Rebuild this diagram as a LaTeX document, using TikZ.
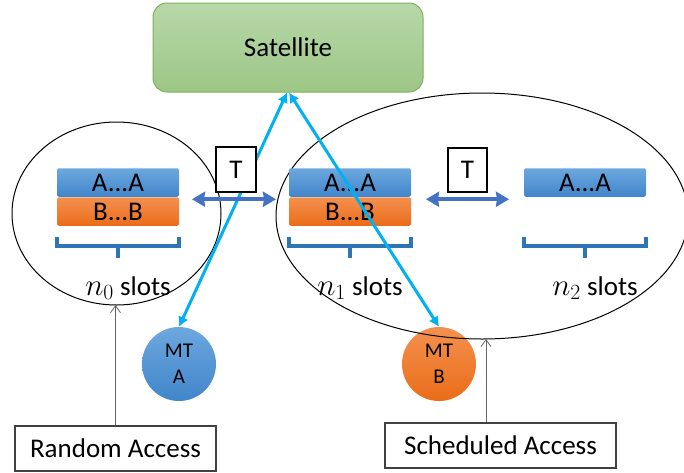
\documentclass[tikz,border=0pt]{standalone}
\usepackage{fix-cm}
\usepackage{fontspec}
\setmainfont{Carlito}
\usetikzlibrary{arrows.meta,shapes.geometric,calc}
\definecolor{satTop}{HTML}{B7D8A9}
\definecolor{satBot}{HTML}{9DC685}
\definecolor{satLine}{HTML}{7DB05D}
\definecolor{blueTop}{HTML}{6DA7DE}
\definecolor{blueBot}{HTML}{4186CA}
\definecolor{orTop}{HTML}{F4914F}
\definecolor{orBot}{HTML}{EA6C19}
\definecolor{braceBlue}{HTML}{2E75B6}
\definecolor{tBlue}{HTML}{4472C4}
\definecolor{cyanL}{HTML}{00B0F0}
\definecolor{grayL}{HTML}{404040}
\newcommand{\mathn}[1]{{\fontsize{31pt}{32pt}\selectfont$n_{#1}$}}
\tikzset{
  big/.style={font=\fontsize{27pt}{32pt}\selectfont},
  bluebar/.style={big, rectangle, rounded corners=2pt, inner sep=0pt, outer sep=0pt,
    minimum width=122pt, minimum height=28.5pt, top color=blueTop, bottom color=blueBot},
  orbar/.style={big, rectangle, rounded corners=2pt, inner sep=0pt, outer sep=0pt,
    minimum width=122pt, minimum height=28.5pt, top color=orTop, bottom color=orBot},
  brace/.style={draw=braceBlue, line width=3.6pt},
  slotlbl/.style={big, inner sep=0pt},
  tbox/.style={big, draw=black, line width=1.3pt, fill=white, inner sep=0pt,
    minimum width=40pt, minimum height=45pt},
  tarrow/.style={draw=tBlue, line width=4pt, {Stealth[length=13pt,width=15pt,inset=1pt]}-{Stealth[length=13pt,width=15pt,inset=1pt]}},
  link/.style={draw=cyanL, line width=3pt, {Latex[length=10pt,width=11pt]}-{Latex[length=10pt,width=11pt]}},
  grp/.style={draw=black, line width=1pt, ellipse, inner sep=0pt, outer sep=0pt},
  mt/.style={circle, inner sep=0pt, minimum size=74pt, align=center,
    font=\fontsize{21pt}{26pt}\selectfont},
  lbox/.style={big, draw=grayL, line width=1.5pt, fill=white, inner sep=0pt,
    minimum height=45pt},
  uparr/.style={draw=grayL!80, line width=0.8pt, -{Straight Barb[length=7pt,width=10pt]}},
}
\begin{document}
\begin{tikzpicture}[x=1pt,y=-1pt]
\useasboundingbox (0,0) rectangle (684,472);
% terminals
\node[mt, top color=blueTop, bottom color=blueBot] (mta) at (179,364) {MT\\A};
\node[mt, top color=orTop, bottom color=orBot] (mtb) at (439,364) {MT\\B};
% groups
\node[grp, minimum width=209pt, minimum height=183pt] (e0) at (116.5,213.5) {};
\node[grp, minimum width=412pt, minimum height=246pt] (e1) at (482,216) {};
% slots
\node[bluebar] (a0) at (118,182.5) {A...A};
\node[orbar]   (b0) at (118,211.5) {B...B};
\node[bluebar] (a1) at (350,182.5) {A...A};
\node[orbar]   (b1) at (350,211.5) {B...B};
\node[bluebar] (a2) at (585,182.5) {A...A};
\coordinate (b2) at (585,211.5);
% braces
\draw[brace] ([yshift=-11pt]b0.south west) |- ([yshift=-20.5pt]b0.south) -| ([yshift=-11pt]b0.south east);
\draw[brace] ([yshift=-20.5pt]b0.south) -- ++(0pt,-11.5pt);
\draw[brace] ([yshift=-11pt]b1.south west) |- ([yshift=-20.5pt]b1.south) -| ([yshift=-11pt]b1.south east);
\draw[brace] ([yshift=-20.5pt]b1.south) -- ++(0pt,-11.5pt);
\draw[brace] ($(b2)+(-61pt,-25pt)$) |- ($(b2)+(0pt,-34.5pt)$) -| ($(b2)+(61pt,-25pt)$);
\draw[brace] ($(b2)+(0pt,-34.5pt)$) -- ++(0pt,-11.5pt);
\node[slotlbl] (s0) at (128,288) {\mathn{0} slots};
\node[slotlbl] (s1) at (360,288) {\mathn{1} slots};
\node[slotlbl] (s2) at (595,288) {\mathn{2} slots};
% satellite
\node[big, rectangle, rounded corners=14pt, draw=satLine, line width=1pt,
  top color=satTop, bottom color=satBot, minimum width=270pt, minimum height=89pt,
  inner sep=0pt] (sat) at (288,47.5) {Satellite};
% links
\draw[link] ([xshift=-1pt]sat.south) -- (mta.north);
\draw[link] ([xshift=1pt]sat.south) -- (mtb.north);
% T arrows
\draw[tarrow] ([xshift=13pt,yshift=-2.5pt]a0.south east) -- ([xshift=-13pt,yshift=-2.5pt]a1.south west);
\draw[tarrow] ([xshift=15pt,yshift=-2.5pt]a1.south east) -- ([xshift=-15pt,yshift=-2.5pt]a2.south west);
\node[tbox] (t1) at (236,169.5) {T};
\node[tbox, minimum width=39pt, minimum height=44pt] (t2) at (467.5,170) {T};
% labels
\node[lbox, minimum width=201pt] (ra) at (115.5,448.5) {Random Access};
\node[lbox, minimum width=231pt] (sa) at (500.5,445.5) {Scheduled Access};
\draw[uparr] (ra.north) -- (ra.north |- e0.south);
\draw[uparr] ([xshift=-14.5pt]sa.north) -- ([xshift=-14.5pt]sa.north |- e1.south);
\end{tikzpicture}
\end{document}
